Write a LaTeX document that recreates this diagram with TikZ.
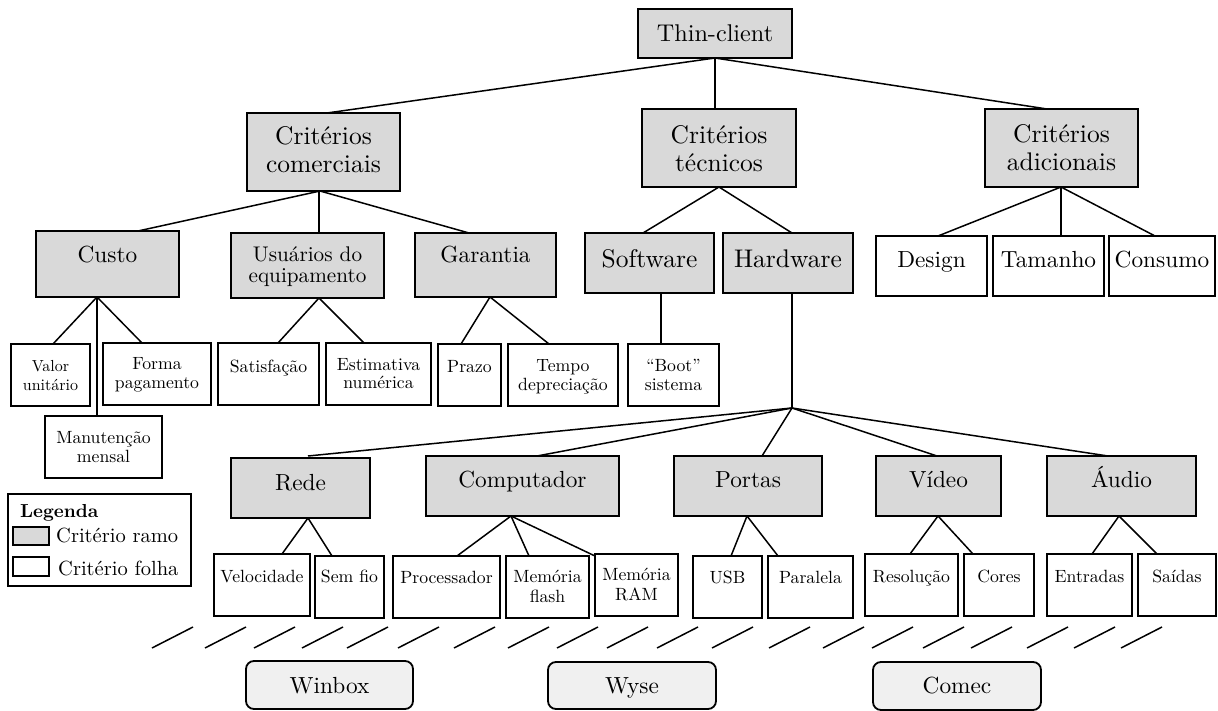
\documentclass[tikz,border=0pt]{standalone}
\usepackage{fontspec}
\setmainfont{lmroman10-regular.otf}[BoldFont=lmroman10-bold.otf]
\usetikzlibrary{calc}
\definecolor{branchgray}{HTML}{D9D9D9}
\definecolor{altgray}{HTML}{F0F0F0}
\newcommand\szBig{\fontsize{25.5}{28}\selectfont}
\newcommand\szTop{\fontsize{24.2}{26}\selectfont}
\newcommand\szMed{\fontsize{23.3}{25}\selectfont}
\newcommand\szUsu{\fontsize{21.2}{23}\selectfont}
\newcommand\szSm{\fontsize{17.7}{19}\selectfont}
\newcommand\szVal{\fontsize{16}{19}\selectfont}
\newcommand\szLeg{\fontsize{20.5}{22}\selectfont}
\newcommand\szLegB{\fontsize{18.8}{22}\selectfont\bfseries}
\newcommand\bx[6]{\node[#2,inner sep=0pt,outer sep=0pt,minimum width={(#5)-(#3)},minimum height={(#6)-(#4)},anchor=north west] (#1) at (#3,#4) {};}
\newcommand\tx[5]{\node[anchor=base,inner sep=0pt,font=#4] (#1) at (#2 |- 0,#3) {#5};}
\tikzset{
  gbox/.style={draw,line width=1.8pt,fill=branchgray},
  wbox/.style={draw,line width=1.8pt,fill=white},
  rbox/.style={draw,line width=1.8pt,fill=altgray,rounded corners=8pt},
  lbox/.style={draw,line width=1.8pt,fill=white},
  conn/.style={line width=1.5pt},
  slash/.style={line width=1.5pt}
}
\begin{document}
\begin{tikzpicture}[x=1pt,y=-1pt]
\useasboundingbox (0,0) rectangle (1218,711);
% boxes
\bx{thin}{gbox}{638}{9}{792}{58}
\bx{cc}{gbox}{247}{113}{400}{191}
\bx{ct}{gbox}{642}{109}{796}{187}
\bx{ca}{gbox}{985}{109}{1138}{187}
\bx{custo}{gbox}{36}{231}{179}{297}
\bx{usu}{gbox}{231}{233}{384}{298}
\bx{gar}{gbox}{415}{233}{556}{297}
\bx{soft}{gbox}{585}{233}{714}{293}
\bx{hard}{gbox}{723}{233}{853}{293}
\bx{design}{wbox}{876}{236}{987}{296}
\bx{tam}{wbox}{993}{236}{1104}{296}
\bx{cons}{wbox}{1109}{236}{1215}{296}
\bx{valor}{wbox}{11}{344}{90}{406}
\bx{forma}{wbox}{103}{343}{211}{405}
\bx{manut}{wbox}{45}{416}{162}{478}
\bx{satis}{wbox}{218}{343}{319}{405}
\bx{estim}{wbox}{326}{343}{431}{405}
\bx{prazo}{wbox}{438}{344}{501}{406}
\bx{tempo}{wbox}{508}{344}{618}{406}
\bx{boot}{wbox}{628}{344}{719}{406}
\bx{rede}{gbox}{231}{458}{370}{518}
\bx{comp}{gbox}{426}{456}{619}{516}
\bx{portas}{gbox}{674}{456}{822}{516}
\bx{video}{gbox}{876}{456}{1001}{516}
\bx{audio}{gbox}{1047}{456}{1196}{516}
\bx{veloc}{wbox}{214}{554}{310}{616}
\bx{semfio}{wbox}{315}{556}{384}{618}
\bx{proc}{wbox}{393}{556}{500}{618}
\bx{memf}{wbox}{506}{556}{589}{618}
\bx{memr}{wbox}{595}{554}{678}{616}
\bx{usb}{wbox}{693}{556}{762}{618}
\bx{paral}{wbox}{768}{556}{853}{618}
\bx{resol}{wbox}{865}{554}{958}{616}
\bx{cores}{wbox}{964}{554}{1034}{616}
\bx{entr}{wbox}{1047}{554}{1132}{616}
\bx{saidas}{wbox}{1138}{554}{1216}{616}
\bx{winbox}{rbox}{246}{661}{413}{709}
\bx{wyse}{rbox}{548}{662}{716}{709}
\bx{comec}{rbox}{873}{662}{1041}{710}
\bx{legend}{lbox}{8}{494}{191}{586}
\bx{swramo}{gbox}{13}{527}{49}{545}
\bx{swfolha}{wbox}{13}{557}{49}{576}
% texts
\tx{thin-t}{thin}{42}{\szTop}{Thin-client}
\tx{cc-t1}{cc}{145}{\szBig}{Critérios}
\tx{cc-t2}{cc}{173}{\szBig}{comerciais}
\tx{ct-t1}{ct}{144}{\szBig}{Critérios}
\tx{ct-t2}{ct}{172}{\szBig}{técnicos}
\tx{ca-t1}{ca}{143}{\szBig}{Critérios}
\tx{ca-t2}{ca}{171}{\szBig}{adicionais}
\tx{custo-t}{custo}{263}{\szMed}{Custo}
\tx{usu-t1}{usu}{262}{\szUsu}{Usuários do}
\tx{usu-t2}{usu}{283}{\szUsu}{equipamento}
\tx{gar-t}{gar}{263}{\szMed}{Garantia}
\tx{soft-t}{soft}{268}{\szBig}{Software}
\tx{hard-t}{hard}{268}{\szBig}{Hardware}
\tx{design-t}{design}{268}{\szMed}{Design}
\tx{tam-t}{tam}{268}{\szMed}{Tamanho}
\tx{cons-t}{cons}{268}{\szMed}{Consumo}
\tx{valor-t1}{valor}{371}{\szVal}{Valor}
\tx{valor-t2}{valor}{390}{\szVal}{unitário}
\tx{forma-t1}{forma}{369}{\szSm}{Forma}
\tx{forma-t2}{forma}{388}{\szSm}{pagamento}
\tx{manut-t1}{manut}{443}{\szSm}{Manutenção}
\tx{manut-t2}{manut}{462}{\szSm}{mensal}
\tx{satis-t}{satis}{372}{\szSm}{Satisfação}
\tx{estim-t1}{estim}{370}{\szSm}{Estimativa}
\tx{estim-t2}{estim}{388}{\szSm}{numérica}
\tx{prazo-t}{prazo}{372}{\szSm}{Prazo}
\tx{tempo-t1}{tempo}{371}{\szSm}{Tempo}
\tx{tempo-t2}{tempo}{390}{\szSm}{depreciação}
\tx{boot-t1}{boot}{371}{\szSm}{“Boot”}
\tx{boot-t2}{boot}{390}{\szSm}{sistema}
\tx{rede-t}{rede}{490}{\szMed}{Rede}
\tx{comp-t}{comp}{487}{\szMed}{Computador}
\tx{portas-t}{portas}{487}{\szMed}{Portas}
\tx{video-t}{video}{487}{\szMed}{Vídeo}
\tx{audio-t}{audio}{487}{\szMed}{Áudio}
\tx{veloc-t}{veloc}{582}{\szSm}{Velocidade}
\tx{semfio-t}{semfio}{582}{\szSm}{Sem fio}
\tx{proc-t}{proc}{583}{\szSm}{Processador}
\tx{memf-t1}{memf}{582}{\szSm}{Memória}
\tx{memf-t2}{memf}{602}{\szSm}{flash}
\tx{memr-t1}{memr}{580}{\szSm}{Memória}
\tx{memr-t2}{memr}{600}{\szSm}{RAM}
\tx{usb-t}{usb}{583}{\szSm}{USB}
\tx{paral-t}{paral}{583}{\szSm}{Paralela}
\tx{resol-t}{resol}{582}{\szSm}{Resolução}
\tx{cores-t}{cores}{582}{\szSm}{Cores}
\tx{entr-t}{entr}{582}{\szSm}{Entradas}
\tx{saidas-t}{saidas}{582}{\szSm}{Saídas}
\tx{winbox-t}{winbox}{693}{\szMed}{Winbox}
\tx{wyse-t}{wyse}{693}{\szMed}{Wyse}
\tx{comec-t}{comec}{693}{\szMed}{Comec}
\node[anchor=base west,inner sep=0pt,font=\szLegB] (leg-t) at (20,517) {Legenda};
\node[anchor=base west,inner sep=0pt,font=\szLeg] (leg-ramo) at (56,542) {Critério ramo};
\node[anchor=base west,inner sep=0pt,font=\szLeg] (leg-folha) at (58,575) {Critério folha};
% connectors
\coordinate (hj) at ($(hard.south west)+(69,115)$);
\draw[conn] (thin.south) -- ($(cc.north west)+(80,0)$);
\draw[conn] (thin.south) -- (thin.south |- ct.north);
\draw[conn] (thin.south) -- ($(ca.north west)+(62,0)$);
\draw[conn] ($(cc.south west)+(73,0)$) -- ($(custo.north west)+(102,0)$);
\draw[conn] ($(cc.south west)+(72,0)$) -- ($(usu.north west)+(88,0)$);
\draw[conn] ($(cc.south west)+(73,0)$) -- ($(gar.north west)+(54,0)$);
\draw[conn] (ct.south) -- ($(soft.north west)+(58,0)$);
\draw[conn] (ct.south) -- ($(hard.north west)+(69,0)$);
\draw[conn] ($(ca.south west)+(76,0)$) -- ($(design.north west)+(62,0)$);
\draw[conn] ($(ca.south west)+(76,0)$) -- ($(tam.north west)+(68,0)$);
\draw[conn] ($(ca.south west)+(76,0)$) -- ($(cons.north west)+(46,0)$);
\draw[conn] ($(custo.south west)+(61,0)$) -- ($(valor.north west)+(42,0)$);
\draw[conn] ($(custo.south west)+(61,0)$) -- ($(forma.north west)+(39,0)$);
\draw[conn] ($(custo.south west)+(61,0)$) -- ($(manut.north west)+(52,0)$);
\draw[conn] ($(usu.south west)+(88,0)$) -- ($(satis.north west)+(60,0)$);
\draw[conn] ($(usu.south west)+(88,0)$) -- ($(estim.north west)+(38,0)$);
\draw[conn] ($(gar.south west)+(75,0)$) -- ($(prazo.north west)+(23,0)$);
\draw[conn] ($(gar.south west)+(75,0)$) -- ($(tempo.north west)+(41,0)$);
\draw[conn] ($(soft.south west)+(76,0)$) -- ($(boot.north west)+(33,0)$);
\draw[conn] ($(hard.south west)+(69,0)$) -- (hj);
\draw[conn] (hj) -- ($(rede.north west)+(77,-2)$);
\draw[conn] (hj) -- ($(comp.north west)+(111,0)$);
\draw[conn] (hj) -- ($(portas.north west)+(88,0)$);
\draw[conn] (hj) -- ($(video.north west)+(61,0)$);
\draw[conn] (hj) -- ($(audio.north west)+(61,0)$);
\draw[conn] ($(rede.south west)+(77,0)$) -- ($(veloc.north west)+(68,0)$);
\draw[conn] ($(rede.south west)+(77,0)$) -- ($(semfio.north west)+(17,0)$);
\draw[conn] ($(comp.south west)+(85,0)$) -- ($(proc.north west)+(64,0)$);
\draw[conn] ($(comp.south west)+(85,0)$) -- ($(memf.north west)+(23,0)$);
\draw[conn] ($(comp.south west)+(85,0)$) -- ($(memr.north west)+(0,2)$);
\draw[conn] ($(portas.south west)+(73,0)$) -- ($(usb.north west)+(38,0)$);
\draw[conn] ($(portas.south west)+(73,0)$) -- ($(paral.north west)+(10,0)$);
\draw[conn] ($(video.south west)+(62,0)$) -- ($(resol.north west)+(45,0)$);
\draw[conn] ($(video.south west)+(62,0)$) -- ($(cores.north west)+(9,0)$);
\draw[conn] ($(audio.south west)+(72,0)$) -- ($(entr.north west)+(45,0)$);
\draw[conn] ($(audio.south west)+(72,0)$) -- ($(saidas.north west)+(19,0)$);
% slashes
\foreach \sx in {152,205,254,302,347,398,454,508,557,607,657,712,769,823,872,923,971,1027,1074,1121}
  \draw[slash] (\sx,648) -- ++(41,-21);
\end{tikzpicture}
\end{document}
